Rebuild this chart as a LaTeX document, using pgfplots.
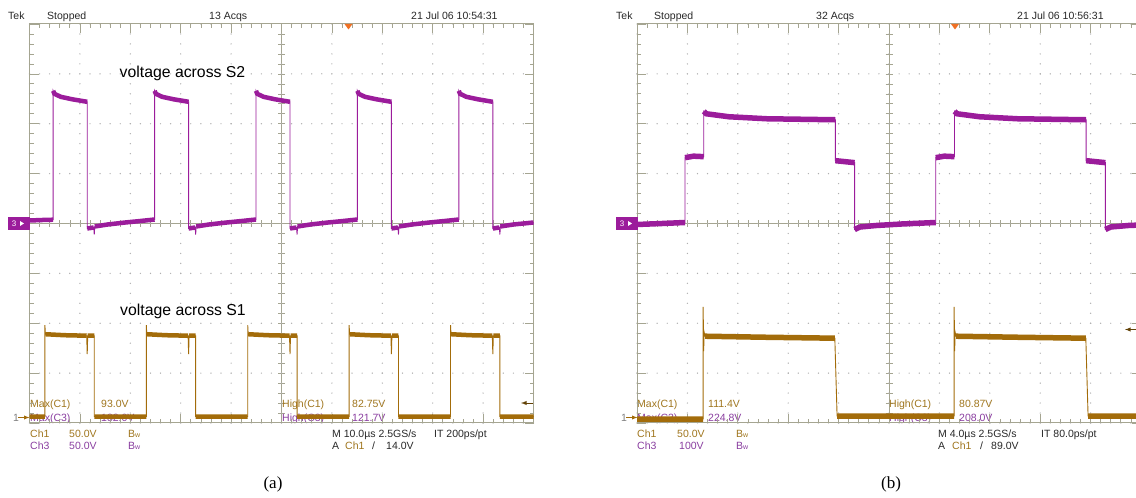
\documentclass[border=0pt]{standalone}
\usepackage{pgfplots}
\pgfplotsset{compat=1.18}
\usepackage{pgfplotstable}
\usepackage{fontspec}
\setmainfont{Liberation Serif}
\newfontfamily\scopefamily{Liberation Sans}
\newcommand\scopetext{\scopefamily\fontsize{10.5}{12}\selectfont}
\newcommand\smallw{{\fontsize{7}{8}\selectfont w}}

\definecolor{chone}{RGB}{163,108,10}
\definecolor{chthree}{RGB}{155,28,155}
\definecolor{chonetxt}{RGB}{160,118,30}
\definecolor{chthreetxt}{RGB}{138,62,160}
\definecolor{framec}{RGB}{165,165,145}
\definecolor{gridc}{RGB}{175,175,175}
\definecolor{trig}{RGB}{240,112,36}
\definecolor{scopetxt}{RGB}{40,40,40}

% ---- (a) 10 us/div, Ch3 = voltage across S2 (V) ----
\pgfplotstableread{
t v
0 3.0
2.5 3.5
4.70 3.8
nan nan
4.70 133
4.95 130
6.2 127
8.5 124.5
11.45 122
nan nan
11.45 -5
12.75 -4
nan nan
12.85 -11
nan nan
12.95 -3
15.5 -1
19 1
22 2.5
24.82 4
nan nan
24.82 133
25.07 130
26.32 127
28.62 124.5
31.57 122
nan nan
31.57 -5
32.87 -4
nan nan
32.97 -11
nan nan
33.07 -3
35.62 -1
39.12 1
42.12 2.5
44.94 4
nan nan
44.94 133
45.19 130
46.44 127
48.74 124.5
51.69 122
nan nan
51.69 -5
52.99 -4
nan nan
53.09 -11
nan nan
53.19 -3
55.74 -1
59.24 1
62.24 2.5
65.06 4
nan nan
65.06 133
65.31 130
66.56 127
68.86 124.5
71.81 122
nan nan
71.81 -5
73.11 -4
nan nan
73.21 -11
nan nan
73.31 -3
75.86 -1
79.36 1
82.36 2.5
85.18 4
nan nan
85.18 133
85.43 130
86.68 127
88.98 124.5
91.93 122
nan nan
91.93 -5
93.23 -4
nan nan
93.33 -11
nan nan
93.43 -3
96 -1
100 1
}\waveAthree

% ---- (a) Ch1 = voltage across S1 (V) ----
\pgfplotstableread{
t v
0 1.5
3.06 1.5
nan nan
3.06 93
nan nan
3.15 84
7 83
11.35 82.5
nan nan
11.45 64
nan nan
11.55 82.5
12.85 82.5
nan nan
12.85 1.5
23.18 1.5
nan nan
23.18 93
nan nan
23.27 84
27.12 83
31.47 82.5
nan nan
31.57 64
nan nan
31.67 82.5
32.97 82.5
nan nan
32.97 1.5
43.30 1.5
nan nan
43.30 93
nan nan
43.39 84
47.24 83
51.59 82.5
nan nan
51.69 64
nan nan
51.79 82.5
53.09 82.5
nan nan
53.09 1.5
63.42 1.5
nan nan
63.42 93
nan nan
63.51 84
67.36 83
71.71 82.5
nan nan
71.81 64
nan nan
71.91 82.5
73.21 82.5
nan nan
73.21 1.5
83.54 1.5
nan nan
83.54 93
nan nan
83.63 84
87.48 83
91.83 82.5
nan nan
91.93 64
nan nan
92.03 82.5
93.33 82.5
nan nan
93.33 1.5
100 1.5
}\waveAone

% ---- (b) 4 us/div, Ch3 (V) ----
\pgfplotstableread{
t v
0 -2
2 0
3.81 2
nan nan
3.81 132
4.5 135
5.30 134
nan nan
5.30 225
5.5 220
7.3 214
10.3 210
15.74 208
nan nan
15.74 126
16.5 124
17.27 122
nan nan
17.27 -12
17.7 -7
19 -4
21 -1
23.71 2
nan nan
23.71 132
24.4 135
25.20 134
nan nan
25.20 225
25.4 220
27.2 214
30.2 210
35.64 208
nan nan
35.64 126
36.4 124
37.17 122
nan nan
37.17 -12
37.6 -7
39 -4
41 -2
}\waveBthree

% ---- (b) Ch1 (V) ----
\pgfplotstableread{
t v
0 -1
5.25 -1
nan nan
5.25 111.4
nan nan
5.29 67
nan nan
5.33 86
nan nan
5.40 82
10 81
15.70 80
nan nan
15.88 2
20 2
25.17 2
nan nan
25.17 111.4
nan nan
25.21 67
nan nan
25.25 86
nan nan
25.32 82
30 81
35.62 80
nan nan
35.80 2
41 2
}\waveBone

\pgfplotsset{
  graticule/.style={
    scale only axis, width=504pt, height=399pt,
    minor x tick num=4, minor y tick num=4,
    xticklabels={}, yticklabels={},
    major tick length=9pt, minor tick length=4pt,
    tick style={framec, line width=0.7pt},
    axis line style={framec, line width=1pt},
    grid=major,
    major x grid style={gridc, line width=1.4pt, line cap=round, dash pattern=on 0pt off 9.975pt},
    major y grid style={gridc, line width=1.4pt, line cap=round, dash pattern=on 0pt off 10.08pt},
  },
  thin trace/.style={line width=0.9pt, unbounded coords=discard, mark=none},
  band trace/.style={line width=4.5pt, unbounded coords=jump, mark=none},
}

\begin{document}
\begin{tikzpicture}[x=1pt, y=1pt]
\useasboundingbox (0,0) rectangle (1136,498);
\fill[white] (0,0) rectangle (1136,498);

% centre cross lines with their fine ticks
\foreach \cx/\xl in {281.5/29.5, 889/637} {
  \draw[framec, line width=0.9pt] (\cx,75) -- (\cx,474);
  \draw[framec, line width=0.9pt] (\xl,274.5) -- (\xl+504,274.5);
  \foreach \j in {1,...,39} {\draw[framec, line width=0.6pt] (\cx-3.5, 75+\j*9.975) -- ++(7,0);}
  \foreach \j in {1,...,49} {\draw[framec, line width=0.6pt] (\xl+\j*10.08, 271) -- ++(0,7);}
}

% ---------- screen text, panel (a) ----------
\begin{scope}[every node/.style={inner sep=0pt, anchor=base west, font=\scopetext}]
\node[text=scopetxt] at (8,478.7) {Tek};
\node[text=scopetxt] at (47,478.7) {Stopped};
\node[text=scopetxt] at (209,478.7) {13 Acqs};
\node[text=scopetxt] at (411,478.7) {21 Jul 06 10:54:31};
\node[text=chonetxt] at (30,90) {Max(C1)};
\node[text=chonetxt] at (101,90) {93.0V};
\node[text=chonetxt] at (282,90) {High(C1)};
\node[text=chonetxt] at (352,90) {82.75V};
\node[text=chthreetxt] at (30,76.5) {Max(C3)};
\node[text=chthreetxt] at (101,76.5) {132.0V};
\node[text=chthreetxt] at (282,76.5) {High(C3)};
\node[text=chthreetxt] at (352,76.5) {121.7V};
\node[text=chonetxt] at (30,60) {Ch1};
\node[text=chonetxt] at (69,60) {50.0V};
\node[text=chonetxt] at (128,60) {B\smallw};
\node[text=chthreetxt] at (30,48) {Ch3};
\node[text=chthreetxt] at (69,48) {50.0V};
\node[text=chthreetxt] at (128,48) {B\smallw};
\node[text=scopetxt] at (332,60) {M 10.0µs 2.5GS/s};
\node[text=scopetxt] at (434,60) {IT 200ps/pt};
\node[text=scopetxt] at (332,48) {A};
\node[text=chonetxt] at (345,48) {Ch1};
\node[text=scopetxt] at (372,48) {/};
\node[text=scopetxt] at (386,48) {14.0V};
\node[text=gray] at (13,76.5) {1};
% ---------- screen text, panel (b) ----------
\node[text=scopetxt] at (616,478.7) {Tek};
\node[text=scopetxt] at (654,478.7) {Stopped};
\node[text=scopetxt] at (816,478.7) {32 Acqs};
\node[text=scopetxt] at (1017,478.7) {21 Jul 06 10:56:31};
\node[text=chonetxt] at (637,90) {Max(C1)};
\node[text=chonetxt] at (708,90) {111.4V};
\node[text=chonetxt] at (889,90) {High(C1)};
\node[text=chonetxt] at (959,90) {80.87V};
\node[text=chthreetxt] at (637,76.5) {Max(C3)};
\node[text=chthreetxt] at (708,76.5) {224.8V};
\node[text=chthreetxt] at (889,76.5) {High(C3)};
\node[text=chthreetxt] at (959,76.5) {208.0V};
\node[text=chonetxt] at (637,60) {Ch1};
\node[text=chonetxt] at (677,60) {50.0V};
\node[text=chonetxt] at (736,60) {B\smallw};
\node[text=chthreetxt] at (637,48) {Ch3};
\node[text=chthreetxt] at (679,48) {100V};
\node[text=chthreetxt] at (736,48) {B\smallw};
\node[text=scopetxt] at (938,60) {M 4.0µs 2.5GS/s};
\node[text=scopetxt] at (1041,60) {IT 80.0ps/pt};
\node[text=scopetxt] at (938,48) {A};
\node[text=chonetxt] at (952,48) {Ch1};
\node[text=scopetxt] at (980,48) {/};
\node[text=scopetxt] at (991,48) {89.0V};
\node[text=gray] at (621,76.5) {1};
\end{scope}

% ---------- panel (a) ----------
\begin{axis}[graticule, at={(29.5pt,75pt)}, anchor=south west,
  xmin=0, xmax=100, ymin=-200, ymax=200,
  xtick distance=10, ytick distance=50]
\addplot[chthree, thin trace] table[x=t, y=v] {\waveAthree};
\addplot[chthree, band trace] table[x=t, y=v] {\waveAthree};
\addplot[chone, thin trace] table[x=t, y expr=\thisrow{v}-195] {\waveAone};
\addplot[chone, band trace] table[x=t, y expr=\thisrow{v}-195] {\waveAone};
\end{axis}

% ---------- panel (b) ----------
\begin{axis}[graticule, at={(637pt,75pt)}, anchor=south west,
  xmin=0, xmax=40, ymin=-400, ymax=400,
  xtick distance=4, ytick distance=100]
\addplot[chthree, thin trace] table[x=t, y=v] {\waveBthree};
\addplot[chthree, band trace, line width=5.5pt] table[x=t, y=v] {\waveBthree};
\addplot[chone, thin trace] table[x=t, y expr=2*\thisrow{v}-390] {\waveBone};
\addplot[chone, band trace, line width=5.5pt] table[x=t, y expr=2*\thisrow{v}-390] {\waveBone};
\end{axis}

% channel ground markers, trigger markers
\foreach \xl in {8, 616} {
  \fill[chthree] (\xl,268) rectangle (\xl+21.5,281);
  \node[inner sep=0pt, text=white, font=\scopefamily\fontsize{8}{8}\selectfont] at (\xl+6,274.5) {3};
  \fill[white] (\xl+12,272) -- (\xl+16,274.5) -- (\xl+12,277) -- cycle;
  \draw[chone, line width=0.9pt, -latex] (\xl+10,80.5) -- (\xl+21.5,80.5);
}
\fill[trig] (344.5,474) -- (352.5,474) -- (348.5,468.5) -- cycle;
\fill[trig] (951,474) -- (959,474) -- (955,468.5) -- cycle;
\draw[chone!60!black, line width=0.9pt, -latex] (533,95) -- (521,95);
\draw[chone!60!black, line width=0.9pt, -latex] (1137,168.5) -- (1125,168.5);

% annotations and sub-captions
\node[inner sep=0pt, anchor=base, font=\scopefamily\fontsize{15.8}{18}\selectfont] at (182.5,420) {voltage across S2};
\node[inner sep=0pt, anchor=base, font=\scopefamily\fontsize{15.8}{18}\selectfont] at (183,182) {voltage across S1};
\node[inner sep=0pt, anchor=base, font=\fontsize{17}{20}\selectfont] at (273,9) {(a)};
\node[inner sep=0pt, anchor=base, font=\fontsize{17}{20}\selectfont] at (891,9) {(b)};
\end{tikzpicture}
\end{document}
